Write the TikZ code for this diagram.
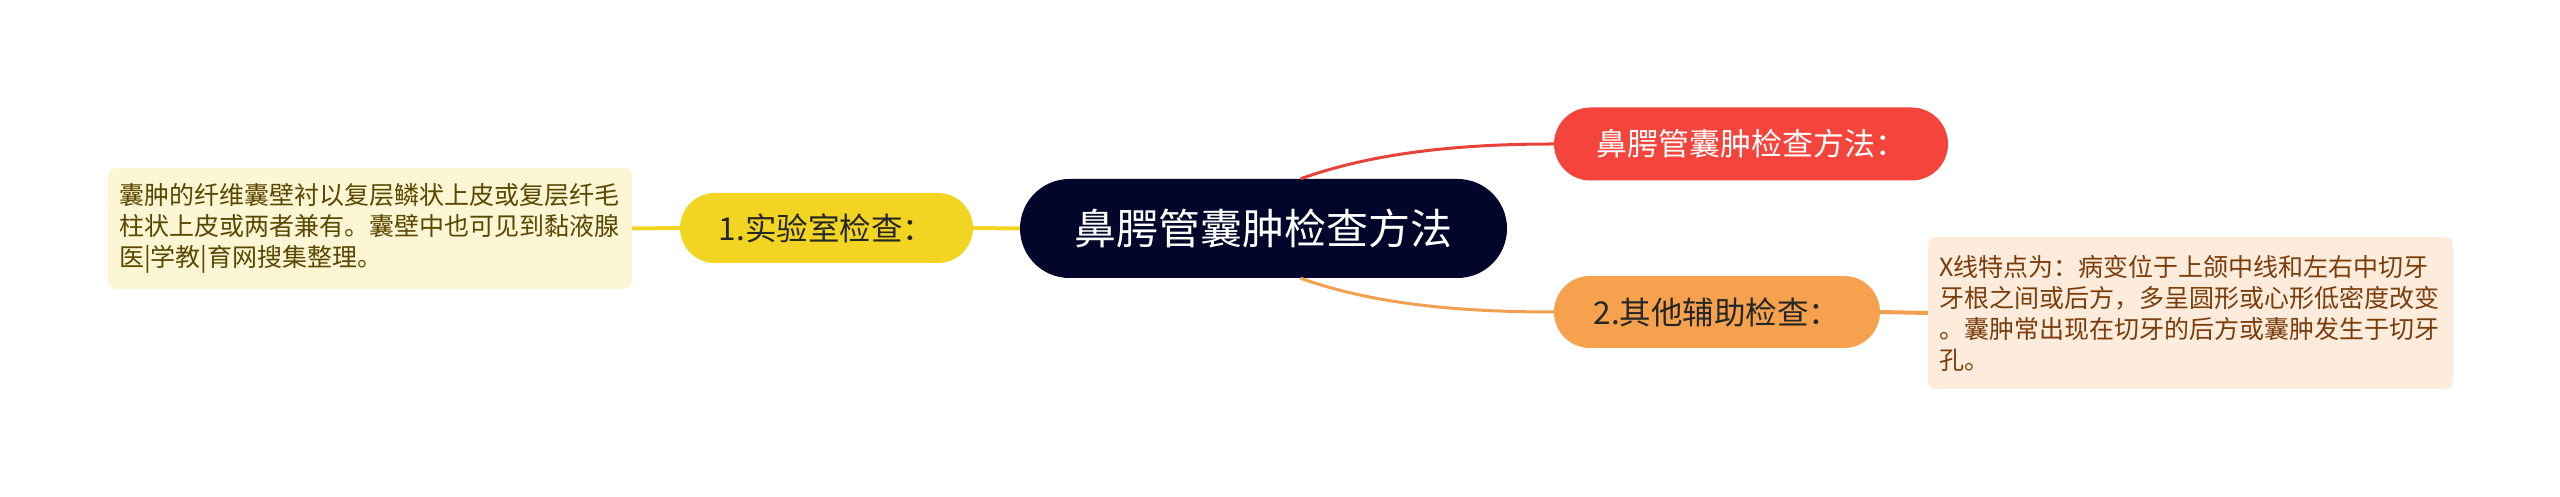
\documentclass[tikz,border=0pt]{standalone}
\usepackage{fontspec}
\setmainfont{Noto Sans CJK SC}
\usetikzlibrary{positioning}

\definecolor{rootfill}{HTML}{03062B}
\definecolor{redfill}{HTML}{F5443B}
\definecolor{yellowfill}{HTML}{F2D422}
\definecolor{orangefill}{HTML}{F5A14D}
\definecolor{leafyfill}{HTML}{FDF6D4}
\definecolor{leafofill}{HTML}{FDEBDC}
\definecolor{leafytext}{HTML}{5A4800}
\definecolor{leafotext}{HTML}{7B3D0B}
\definecolor{redline}{HTML}{E8433A}
\definecolor{orangeline}{HTML}{F0A04E}

\tikzset{
  pill/.style={rounded corners=#1, inner sep=0pt, align=center},
  leafbox/.style={rounded corners=8pt, inner sep=0pt, align=left,
    font=\fontsize{25}{31}\selectfont},
}

\begin{document}
\begin{tikzpicture}[x=1pt,y=1pt]
            \useasboundingbox (0,0) rectangle (2560,497);

            % Define points
            \coordinate (c0) at (1263.5,268.5);
            \coordinate (c1) at (826.5,269);
            \coordinate (c2) at (1751,353);
            \coordinate (c3) at (1717,185);

            % Topics
            \node[pill=49.5pt,fill=rootfill,text=white,minimum width=487pt,minimum height=99pt,
              font=\fontsize{42}{50}\selectfont] (root) at (c0) {鼻腭管囊肿检查方法};
            \node[pill=35pt,fill=yellowfill,text=black!85,minimum width=293pt,minimum height=70pt,
              font=\fontsize{31.5}{36}\selectfont] (lab) at (c1) {1.实验室检查：};
            \node[pill=36.5pt,fill=redfill,text=white,minimum width=394pt,minimum height=73pt,
              font=\fontsize{31}{36}\selectfont] (exam) at (c2) {鼻腭管囊肿检查方法：};
            \node[pill=36pt,fill=orangefill,text=black!85,minimum width=326pt,minimum height=72pt,
              font=\fontsize{31.5}{36}\selectfont] (other) at (c3) {2.其他辅助检查：};

            % Leaves
            \node[leafbox,fill=leafyfill,text=leafytext,minimum width=524pt,minimum height=121pt,
              text width=502pt] (leafl) at (370,268.5)
              {囊肿的纤维囊壁衬以复层鳞状上皮或复层纤毛\\柱状上皮或两者兼有。囊壁中也可见到黏液腺\\医|学教|育网搜集整理。};
            \node[leafbox,fill=leafofill,text=leafotext,minimum width=525pt,minimum height=152pt,
              text width=503pt] (leafr) at (2190.5,184)
              {X线特点为：病变位于上颌中线和左右中切牙\\牙根之间或后方，多呈圆形或心形低密度改变\\。囊肿常出现在切牙的后方或囊肿发生于切牙\\孔。};

            % Connectors
            \draw[yellowfill,line width=4pt] (leafl.east) -- (lab.west);
            \draw[yellowfill,line width=4pt] (lab.east) -- (root.west);
            \draw[redline,line width=3pt] ([xshift=37pt]root.north) .. controls +(70,25) and +(-100,0) .. (exam.west);
            \draw[orangeline,line width=3pt] ([xshift=37pt]root.south) .. controls +(70,-25) and +(-100,0) .. (other.west);
            \draw[orangeline,line width=4pt] (other.east) -- (leafr.west);
        \end{tikzpicture}
\end{document}
